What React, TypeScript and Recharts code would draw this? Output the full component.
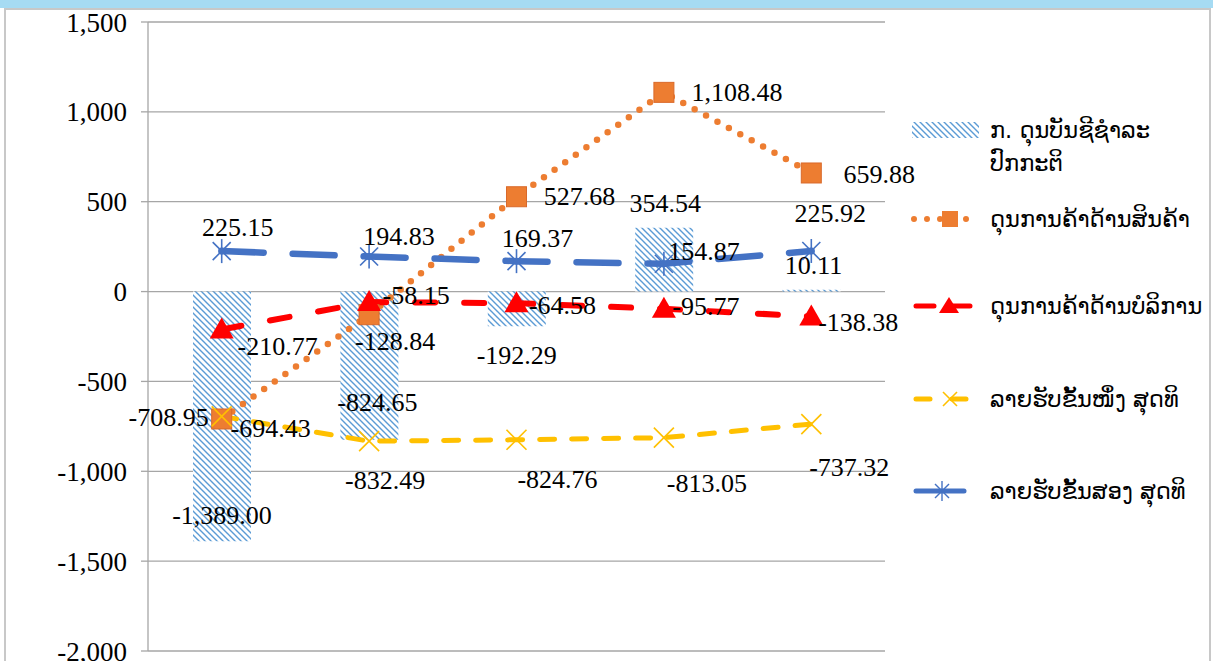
import React from 'react';
import {
  Bar,
  ComposedChart,
  CartesianGrid,
  LabelList,
  Legend,
  Line,
  XAxis,
  YAxis,
} from 'recharts';

const periods = ['1', '2', '3', '4', '5'];
const currentAccount = [-1389.0, -824.65, -192.29, 354.54, 10.11];
const goodsBalance = [-708.95, -128.84, 527.68, 1108.48, 659.88];
const servicesBalance = [-210.77, -58.15, -64.58, -95.77, -138.38];
const primaryIncome = [-694.43, -832.49, -824.76, -813.05, -737.32];
const secondaryIncome = [225.15, 194.83, 169.37, 154.87, 225.92];
const yTicks = [-2000, -1500, -1000, -500, 0, 500, 1000, 1500];

const seriesNames = {
  ca: 'ກ. ດຸນບັນຊີຊໍາລະປົກກະຕິ',
  goods: 'ດຸນການຄ້າດ້ານສິນຄ້າ',
  services: 'ດຸນການຄ້າດ້ານບໍລິການ',
  primary: 'ລາຍຮັບຂັ້ນໜຶ່ງ ສຸດທິ',
  secondary: 'ລາຍຮັບຂັ້ນສອງ ສຸດທິ',
};

const data = periods.map((p, i) => ({
  period: p,
  ca: currentAccount[i],
  goods: goodsBalance[i],
  services: servicesBalance[i],
  primary: primaryIncome[i],
  secondary: secondaryIncome[i],
}));

const NUM_FONT = '"Liberation Serif", "Times New Roman", serif';
const LAO_FONT = '"DejaVu Sans", "Noto Sans", sans-serif';

const fmt = (v: number) =>
  v.toLocaleString('en-US', { minimumFractionDigits: 2, maximumFractionDigits: 2 });

// label nudges (dx, dy from the point), as placed in the original sheet
const nudge: Record<string, [number, number][]> = {
  secondary: [[16, -24], [30, -20], [21, -23], [40, -12], [19, -37]],
  goods: [[-53, -1], [26, 27], [63, 0], [73, 0], [68, 2]],
  services: [[56, 17], [47, -7], [46, 2], [42, -2], [47, 6]],
  primary: [[49, 12], [16, 39], [41, 40], [43, 46], [38, 43]],
  ca: [[0, -26], [8, -37], [0, 29], [1, -24], [2, -24]],
};

const pointLabel = (key: string) => (props: any) => {
  const { x, y, value, index } = props;
  const [dx, dy] = nudge[key][index] || [0, 0];
  return (
    <text
      key={`${key}-l-${index}`}
      x={x + dx}
      y={y + dy}
      textAnchor="middle"
      dominantBaseline="central"
      fontFamily={NUM_FONT}
      fontSize={26}
      fill="#000"
    >
      {fmt(value)}
    </text>
  );
};

const barLabel = (props: any) => {
  const { x, y, width, height, value, index } = props;
  const top = Math.min(y, y + height);
  const bottom = Math.max(y, y + height);
  const endY = value < 0 ? bottom : top;
  const [dx, dy] = nudge.ca[index] || [0, 0];
  return (
    <text
      key={`ca-l-${index}`}
      x={x + width / 2 + dx}
      y={endY + dy}
      textAnchor="middle"
      dominantBaseline="central"
      fontFamily={NUM_FONT}
      fontSize={26}
      fill="#000"
    >
      {fmt(value)}
    </text>
  );
};

const SquareDot = (props: any) => {
  const { cx, cy, index } = props;
  return (
    <rect
      key={`sq-${index}`}
      x={cx - 10}
      y={cy - 10}
      width={20}
      height={20}
      fill="#ed7d31"
      stroke="#d9692a"
      strokeWidth={1}
    />
  );
};

const TriangleDot = (props: any) => {
  const { cx, cy, index } = props;
  return (
    <polygon
      key={`tr-${index}`}
      points={`${cx},${cy - 12} ${cx + 12},${cy + 9} ${cx - 12},${cy + 9}`}
      fill="#ff0000"
    />
  );
};

const CrossDot = (props: any) => {
  const { cx, cy, index } = props;
  return (
    <g key={`x-${index}`} stroke="#ffc000" strokeWidth={1.6}>
      <line x1={cx - 10} y1={cy - 10} x2={cx + 10} y2={cy + 10} />
      <line x1={cx - 10} y1={cy + 10} x2={cx + 10} y2={cy - 10} />
    </g>
  );
};

const StarDot = (props: any) => {
  const { cx, cy, index } = props;
  return (
    <g key={`st-${index}`} stroke="#4472c4" strokeWidth={1.6}>
      <line x1={cx - 9} y1={cy - 9} x2={cx + 9} y2={cy + 9} />
      <line x1={cx - 9} y1={cy + 9} x2={cx + 9} y2={cy - 9} />
      <line x1={cx} y1={cy - 12} x2={cx} y2={cy + 12} />
      <circle cx={cx} cy={cy} r={3.5} fill="#4472c4" stroke="none" />
    </g>
  );
};

const legendText = {
  fontFamily: LAO_FONT,
  fontSize: 22.5,
  fill: '#000',
};

const renderLegend = () => (
  <svg width={310} height={420}>
    {/* current account */}
    <rect x={10} y={12} width={67} height={16} fill="url(#hatch)" />
    <text x={88} y={20} dominantBaseline="central" {...legendText}>
      ກ. ດຸນບັນຊີຊໍາລະ
    </text>
    <text x={88} y={53} dominantBaseline="central" {...legendText}>
      ປົກກະຕິ
    </text>
    {/* goods */}
    <line x1={12} y1={109} x2={74} y2={109} stroke="#ed7d31" strokeWidth={6} strokeDasharray="0 13" strokeLinecap="round" />
    <rect x={40} y={101} width={16} height={16} fill="#ed7d31" />
    <text x={88} y={109} dominantBaseline="central" {...legendText}>
      {seriesNames.goods}
    </text>
    {/* services */}
    <line x1={14} y1={196} x2={80} y2={196} stroke="#ff0000" strokeWidth={5} strokeDasharray="18 18" strokeLinecap="round" />
    <polygon points="47,187 57,203 37,203" fill="#ff0000" />
    <text x={88} y={196} dominantBaseline="central" {...legendText}>
      {seriesNames.services}
    </text>
    {/* primary income */}
    <line x1={14} y1={289} x2={80} y2={289} stroke="#ffc000" strokeWidth={5} strokeDasharray="14 22" strokeLinecap="round" />
    <g stroke="#ffc000" strokeWidth={1.6}>
      <line x1={41} y1={282} x2={55} y2={296} />
      <line x1={41} y1={296} x2={55} y2={282} />
    </g>
    <text x={88} y={289} dominantBaseline="central" {...legendText}>
      {seriesNames.primary}
    </text>
    {/* secondary income */}
    <line x1={14} y1={381} x2={62} y2={381} stroke="#4472c4" strokeWidth={5} strokeLinecap="round" />
    <g stroke="#4472c4" strokeWidth={1.4}>
      <line x1={33} y1={374} x2={47} y2={388} />
      <line x1={33} y1={388} x2={47} y2={374} />
      <line x1={40} y1={371} x2={40} y2={391} />
    </g>
    <text x={88} y={381} dominantBaseline="central" {...legendText}>
      {seriesNames.secondary}
    </text>
  </svg>
);

export default function App() {
  return (
    <div
      style={{
        position: 'absolute',
        left: 0,
        top: 0,
        width: 1213,
        height: 661,
        background: '#fff',
        overflow: 'hidden',
      }}
    >
      <svg width={0} height={0} style={{ position: 'absolute' }}>
        <defs>
          <pattern id="hatch" patternUnits="userSpaceOnUse" width={6} height={6}>
            <rect width={6} height={6} fill="#ffffff" />
            <path d="M-1,-1 L7,7 M-1,5 L1,7 M5,-1 L7,1" stroke="#5b9bd5" strokeWidth={1.4} />
          </pattern>
        </defs>
      </svg>
      <div
        style={{
          position: 'absolute',
          left: 0,
          top: 0,
          width: 1213,
          height: 8,
          background: '#a6dbf3',
        }}
      />
      <div
        style={{
          position: 'absolute',
          left: 4,
          top: 8,
          width: 1203,
          height: 660,
          border: '2px solid #c8c8c8',
          borderBottom: 'none',
        }}
      />
      <div style={{ position: 'absolute', left: 0, top: 0 }}>
        <ComposedChart
          width={1213}
          height={661}
          data={data}
          margin={{ top: 22, right: 328, bottom: 10, left: 0 }}
        >
          <CartesianGrid vertical={false} stroke="#a6a6a6" strokeWidth={1.3} />
          <XAxis dataKey="period" hide />
          <YAxis
            width={148}
            domain={[-2000, 1500]}
            ticks={yTicks}
            interval={0}
            tickFormatter={(v: number) => v.toLocaleString('en-US')}
            tick={{ fontFamily: NUM_FONT, fontSize: 27, fill: '#000' }}
            tickSize={7}
            tickMargin={14}
            stroke="#a6a6a6"
            strokeWidth={1.3}
          />
          <Bar
            dataKey="ca"
            name={seriesNames.ca}
            fill="url(#hatch)"
            barSize={58}
            isAnimationActive={false}
          >
            <LabelList dataKey="ca" content={barLabel} />
          </Bar>
          <Line
            dataKey="goods"
            name={seriesNames.goods}
            stroke="#ed7d31"
            strokeWidth={6.5}
            strokeDasharray="0 13"
            strokeLinecap="round"
            dot={SquareDot}
            activeDot={false}
            isAnimationActive={false}
          >
            <LabelList dataKey="goods" content={pointLabel('goods')} />
          </Line>
          <Line
            dataKey="services"
            name={seriesNames.services}
            stroke="#ff0000"
            strokeWidth={6}
            strokeDasharray="20 29"
            strokeLinecap="round"
            dot={TriangleDot}
            activeDot={false}
            isAnimationActive={false}
          >
            <LabelList dataKey="services" content={pointLabel('services')} />
          </Line>
          <Line
            dataKey="primary"
            name={seriesNames.primary}
            stroke="#ffc000"
            strokeWidth={5}
            strokeDasharray="15 17"
            strokeLinecap="round"
            dot={CrossDot}
            activeDot={false}
            isAnimationActive={false}
          >
            <LabelList dataKey="primary" content={pointLabel('primary')} />
          </Line>
          <Line
            dataKey="secondary"
            name={seriesNames.secondary}
            stroke="#4472c4"
            strokeWidth={6.5}
            strokeDasharray="42 29"
            strokeLinecap="round"
            dot={StarDot}
            activeDot={false}
            isAnimationActive={false}
          >
            <LabelList dataKey="secondary" content={pointLabel('secondary')} />
          </Line>
          <Legend
            layout="vertical"
            align="center"
            verticalAlign="middle"
            wrapperStyle={{ left: 902, top: 110, width: 310, height: 420 }}
            content={renderLegend}
          />
        </ComposedChart>
      </div>
    </div>
  );
}
